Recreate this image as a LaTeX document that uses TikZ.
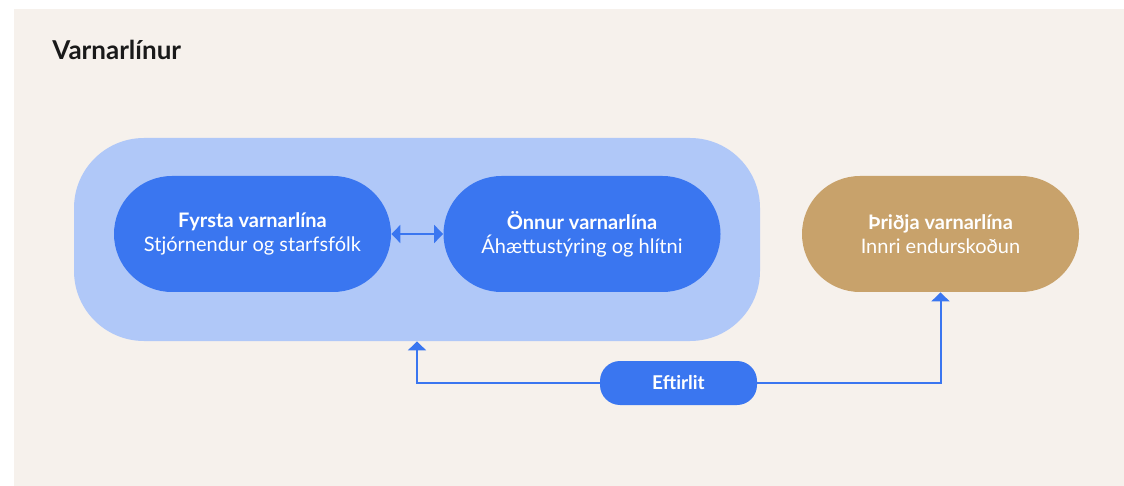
\documentclass[tikz,border=0pt]{standalone}
\usepackage{fontspec}
\setmainfont{Lato}
\usepackage{tikz}
\usetikzlibrary{arrows.meta}
\definecolor{bgbeige}{HTML}{F6F1EC}
\definecolor{lightblue}{HTML}{B0C8F8}
\definecolor{lineblue}{HTML}{3A76F0}
\definecolor{gold}{HTML}{C8A26B}
\definecolor{titleink}{HTML}{1A1A1A}
\tikzset{every node/.style={font=\fontsize{10}{12}\selectfont},
  pill/.style={fill=lineblue, text=white, align=center, rounded corners=29pt,
    minimum width=138.5pt, minimum height=58pt, inner sep=0pt},
  flow/.style={draw=lineblue, line width=1pt, -{Triangle[length=4.5pt,width=9pt]}}}

\begin{document}
\begin{tikzpicture}[x=0.5pt, y=-0.5pt]
  \useasboundingbox (0,0) rectangle (1124,486);
  \fill[bgbeige] (14,9) rectangle (1124,486);
  \node[anchor=base west, inner sep=0pt, text=titleink, font=\fontsize{13}{15}\selectfont\bfseries] (title) at (52,60) {Varnarlínur};
  % lines of defence
  \node[fill=lightblue, rounded corners=35pt, minimum width=343pt, minimum height=101.5pt] (outer) at (417,239.5) {};
  \node[pill] (first) at (252.5,234) {\textbf{Fyrsta varnarlína}\\Stjórnendur og starfsfólk};
  \node[pill] (second) at (582,234) {\textbf{Önnur varnarlína}\\Áhættustýring og hlítni};
  \node[pill, fill=gold] (third) at (940.5,234) {\textbf{Þriðja varnarlína}\\Innri endurskoðun};
  \node[pill, rounded corners=10pt, minimum width=78.5pt, minimum height=22pt,
    font=\fontsize{9.5}{12}\selectfont\bfseries] (check) at (678.5,383) {Eftirlit};
  \draw[flow, {Triangle[length=4.5pt,width=9pt]}-{Triangle[length=4.5pt,width=9pt]}] (first) -- (second);
  \draw[flow] (check.west) -| (outer.south);
  \draw[flow] (check.east) -| (third.south);
\end{tikzpicture}
\end{document}
